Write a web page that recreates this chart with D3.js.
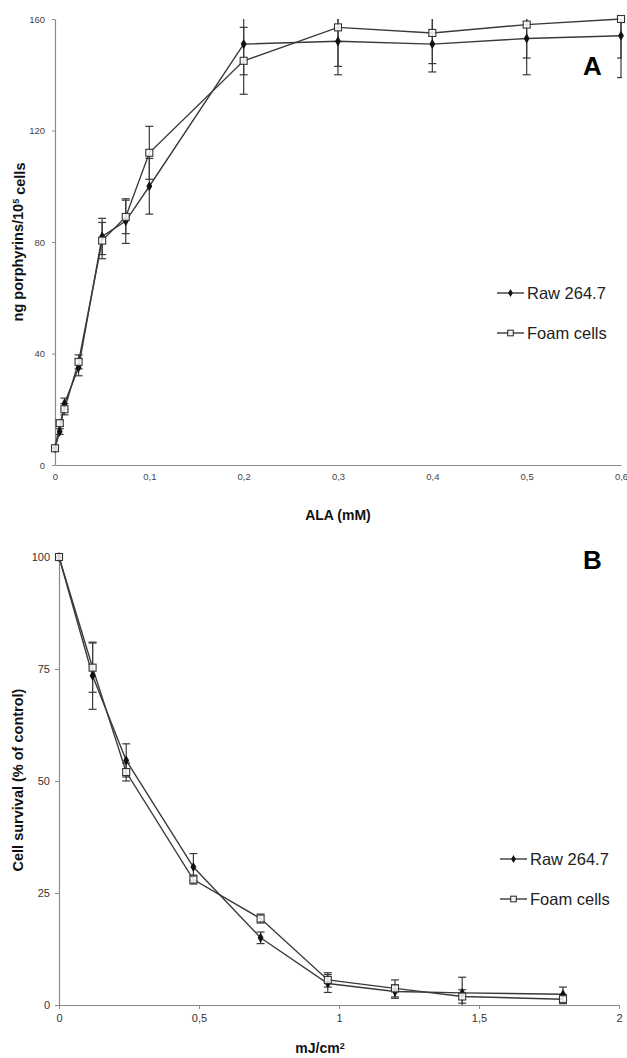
<!DOCTYPE html>
<html>
<head>
<meta charset="utf-8">
<script src="https://cdn.jsdelivr.net/npm/d3@7"></script>
<style>
  html, body { margin: 0; padding: 0; background: #fff; }
  svg { display: block; font-family: "Liberation Sans", Arial, sans-serif; }
</style>
</head>
<body>
<script>
// ---------- Panel A data ----------
const alaDose = [0, 0.005, 0.01, 0.025, 0.05, 0.075, 0.1, 0.2, 0.3, 0.4, 0.5, 0.6];
const rawPorph = [6, 12, 22, 35, 82, 87.5, 100, 151, 152, 151, 153, 154];
const rawPorphErr = [1, 1, 2, 3, 6.5, 8, 10, 11, 12, 10, 13, 15];
const foamPorph = [6, 15, 20, 37, 80.5, 89, 112, 145, 157, 155, 158, 160];
const foamPorphErr = [1, 1, 2, 2.5, 6.5, 6, 9.5, 12, 14, 11, 12, 14];
const xTicksA = [0, 0.1, 0.2, 0.3, 0.4, 0.5, 0.6];
const yTicksA = [0, 40, 80, 120, 160];

// ---------- Panel B data ----------
const lightDose = [0, 0.12, 0.24, 0.48, 0.72, 0.96, 1.2, 1.44, 1.8];
const rawSurv = [100, 73.5, 54.6, 30.8, 15, 4.8, 3, 2.7, 2.4];
const rawSurvErr = [0, 7.5, 3.7, 3, 1.3, 2, 1.5, 3.5, 1.6];
const foamSurv = [100, 75.3, 52, 28, 19.3, 5.6, 3.7, 1.9, 1.3];
const foamSurvErr = [0, 5.5, 2, 1, 1, 1.6, 1.9, 1.5, 1];
const xTicksB = [0, 0.5, 1, 1.5, 2];
const yTicksB = [0, 25, 50, 75, 100];

const seriesNames = ["Raw 264.7", "Foam cells"];

const W = 627, H = 1058;
const svg = d3.select("body").append("svg").attr("width", W).attr("height", H);
const LINE = "#3a3a3a";
const AXIS = "#8a8a8a";
const fmt = d => String(d).replace(".", ",");

function drawMarker(g, kind, cx, cy, scale = 1) {
  if (kind === "diamond") {
    g.append("path").attr("d", d3.symbol().type(d3.symbolDiamond).size(30 * scale * scale)())
      .attr("transform", `translate(${cx},${cy})`).attr("fill", "#111");
  } else {
    const s = 7 * scale;
    g.append("rect").attr("x", cx - s / 2).attr("y", cy - s / 2).attr("width", s).attr("height", s)
      .attr("fill", "#fff").attr("fill-opacity", 0.85).attr("stroke", "#333").attr("stroke-width", 1.1);
  }
}

function panel(cfg) {
  const g = svg.append("g");
  const x = d3.scaleLinear().domain(cfg.xDomain).range(cfg.xRange);
  const y = d3.scaleLinear().domain(cfg.yDomain).range(cfg.yRange);

  const ya = g.append("g").attr("transform", `translate(${cfg.xRange[0]},0)`)
    .call(d3.axisLeft(y).tickValues(cfg.yTicks).tickFormat(fmt).tickSize(cfg.tickLen).tickSizeOuter(0).tickPadding(cfg.yPad));
  const xa = g.append("g").attr("transform", `translate(0,${cfg.yRange[0]})`)
    .call(d3.axisBottom(x).tickValues(cfg.xTicks).tickFormat(fmt).tickSize(cfg.xTickLen).tickSizeOuter(0).tickPadding(cfg.xPad));
  [ya, xa].forEach(a => {
    a.select(".domain").attr("stroke", AXIS).attr("stroke-width", 1.2);
    a.selectAll(".tick line").attr("stroke", AXIS);
    a.selectAll(".tick text").attr("fill", cfg.tickColor)
      .style("font-size", cfg.tickFont + "px")
      .style("font-family", '"Liberation Sans", Arial, sans-serif');
  });

  const cid = "clip" + cfg.id;
  svg.append("clipPath").attr("id", cid).append("rect")
    .attr("x", cfg.xRange[0]).attr("y", cfg.yRange[1])
    .attr("width", cfg.xRange[1] - cfg.xRange[0] + 1)
    .attr("height", cfg.yRange[0] - cfg.yRange[1]);

  const series = [
    { vals: cfg.raw, errs: cfg.rawErr, kind: "diamond" },
    { vals: cfg.foam, errs: cfg.foamErr, kind: "square" }
  ];

  const line = d3.line().x((d, i) => x(cfg.xs[i])).y(d => y(d));

  const eb = g.append("g").attr("clip-path", `url(#${cid})`);
  series.forEach(s => {
    s.vals.forEach((v, i) => {
      const e = s.errs[i];
      if (!e) return;
      const cx = x(cfg.xs[i]);
      const lo = v - e, hi = v + e;
      eb.append("line").attr("x1", cx).attr("x2", cx).attr("y1", y(lo)).attr("y2", y(hi))
        .attr("stroke", LINE).attr("stroke-width", 1.2);
      [lo, hi].forEach(b => {
        if (b > cfg.yDomain[1] + 0.5) return;
        eb.append("line").attr("x1", cx - 4).attr("x2", cx + 4).attr("y1", y(b)).attr("y2", y(b))
          .attr("stroke", LINE).attr("stroke-width", 1.2);
      });
    });
  });

  series.forEach(s => {
    g.append("path").datum(s.vals).attr("d", line)
      .attr("fill", "none").attr("stroke", LINE).attr("stroke-width", 1.4);
  });

  series.forEach(s => {
    s.vals.forEach((v, i) => drawMarker(g, s.kind, x(cfg.xs[i]), y(v)));
  });

  seriesNames.forEach((name, k) => {
    const ly = cfg.legendY[k];
    const lx = cfg.legendX;
    g.append("line").attr("x1", lx).attr("x2", lx + 27).attr("y1", ly).attr("y2", ly)
      .attr("stroke", LINE).attr("stroke-width", 1.4);
    drawMarker(g, k === 0 ? "diamond" : "square", lx + 13.5, ly, 0.8);
    g.append("text").attr("x", lx + 30).attr("y", ly).attr("dy", "0.35em")
      .attr("fill", "#222").style("font-size", "16.5px").text(name);
  });

  g.append("text").attr("x", 583).attr("y", cfg.letterY)
    .attr("fill", "#000").style("font-size", "26px").style("font-weight", "bold").text(cfg.letter);

  g.append("text").attr("x", cfg.xTitleX).attr("y", cfg.xTitleY).attr("text-anchor", "middle")
    .attr("fill", "#111").style("font-size", "14px").style("font-weight", "bold")
    .call(cfg.xTitle);
  g.append("text").attr("transform", `translate(23,${cfg.yTitleY}) rotate(-90)`)
    .attr("text-anchor", "middle")
    .attr("fill", "#111").style("font-size", "14.5px").style("font-weight", "bold")
    .call(cfg.yTitle);
}

panel({
  id: "A", letter: "A", letterY: 75,
  xs: alaDose, raw: rawPorph, rawErr: rawPorphErr, foam: foamPorph, foamErr: foamPorphErr,
  xDomain: [0, 0.6], xRange: [55, 621], yDomain: [0, 160], yRange: [465, 19],
  xTicks: xTicksA, yTicks: yTicksA, tickLen: 3, xTickLen: 0, yPad: 7, xPad: 8,
  tickFont: 9.5, tickColor: "#444",
  legendX: 497, legendY: [293, 333],
  xTitleX: 338, xTitleY: 520,
  xTitle: t => t.text("ALA (mM)"),
  yTitleY: 242,
  yTitle: t => {
    t.append("tspan").text("ng porphyrins/10");
    t.append("tspan").attr("dy", "-0.45em").style("font-size", "9px").text("5");
    t.append("tspan").attr("dy", "0.45em").text(" cells");
  }
});

panel({
  id: "B", letter: "B", letterY: 569,
  xs: lightDose, raw: rawSurv, rawErr: rawSurvErr, foam: foamSurv, foamErr: foamSurvErr,
  xDomain: [0, 2], xRange: [59, 619], yDomain: [0, 100], yRange: [1005, 557],
  xTicks: xTicksB, yTicks: yTicksB, tickLen: 4, xTickLen: 4, yPad: 5, xPad: 5,
  tickFont: 11, tickColor: "#333",
  legendX: 500, legendY: [859, 899],
  xTitleX: 320, xTitleY: 1053,
  xTitle: t => {
    t.append("tspan").text("mJ/cm");
    t.append("tspan").attr("dy", "-0.4em").style("font-size", "9px").text("2");
  },
  yTitleY: 780,
  yTitle: t => t.text("Cell survival (% of control)")
});
</script>
</body>
</html>
